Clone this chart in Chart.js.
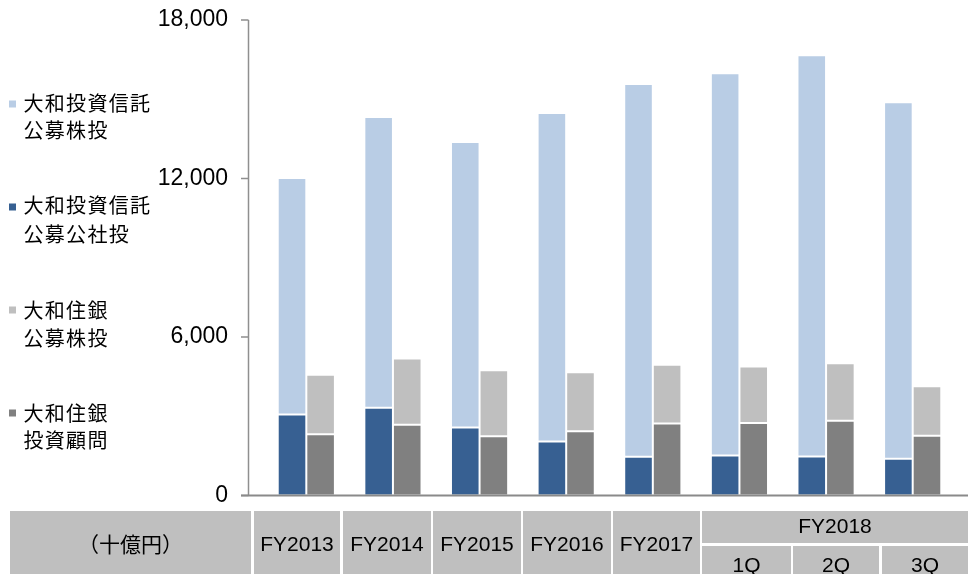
<!DOCTYPE html>
<html>
<head>
<meta charset="utf-8">
<script src="https://cdn.jsdelivr.net/npm/chart.js@4"></script>
<style>
  html, body { margin: 0; padding: 0; background: #fff; }
  #wrap { position: relative; width: 968px; height: 574px; }
</style>
</head>
<body>
<div id="wrap"><canvas id="c" width="968" height="574"></canvas></div>
<script>
// ---- data ----
const categories = ['FY2013', 'FY2014', 'FY2015', 'FY2016', 'FY2017', '1Q', '2Q', '3Q'];
const groupLabel = 'FY2018';          // spans the last three categories
const groupStart = 5;
const unitLabel = '（十億円）';
const yTickValues = [0, 6000, 12000, 18000];

const daiwaPublicStock = [8950, 11010, 10810, 12440, 14110, 14470, 15190, 13500];   // 大和投資信託 公募株投
const daiwaPublicBond  = [3070, 3320, 2570, 2040, 1470, 1510, 1480, 1390];          // 大和投資信託 公募公社投
const smPublicStock    = [2250, 2510, 2500, 2240, 2220, 2140, 2180, 1880];          // 大和住銀 公募株投
const smAdvisory       = [2320, 2680, 2240, 2430, 2730, 2740, 2830, 2260];          // 大和住銀 投資顧問

const legendNames = [
  ['大和投資信託', '公募株投'],
  ['大和投資信託', '公募公社投'],
  ['大和住銀', '公募株投'],
  ['大和住銀', '投資顧問']
];
const colors = ['#b9cde5', '#376092', '#bfbfbf', '#808080'];

// ---- plugin: axis lines, legend, table ----
const decor = {
  id: 'decor',
  afterDraw(chart) {
    const ctx = chart.ctx;
    const ys = chart.scales.y;
    const area = chart.chartArea;
    ctx.save();
    // y axis line and ticks
    const axX = 248.5;
    ctx.strokeStyle = '#8f8f8f';
    ctx.lineWidth = 1.5;
    ctx.beginPath();
    ctx.moveTo(axX, ys.getPixelForValue(yTickValues[yTickValues.length - 1]));
    ctx.lineTo(axX, area.bottom);
    yTickValues.forEach(v => {
      const py = ys.getPixelForValue(v);
      ctx.moveTo(241, py);
      ctx.lineTo(axX, py);
    });
    ctx.stroke();
    // baseline
    ctx.lineWidth = 2;
    ctx.strokeStyle = '#8a8a8a';
    ctx.beginPath();
    const by = ys.getPixelForValue(0);
    ctx.moveTo(241, by);
    ctx.lineTo(968, by);
    ctx.stroke();

    // legend
    const legendY = [[104, 131.5], [206.5, 235], [311, 339], [414, 441.5]];
    const markerY = [104, 207, 310, 413];
    ctx.font = '20px "Noto Sans CJK JP"';
    ctx.textBaseline = 'middle';
    ctx.textAlign = 'left';
    try { ctx.letterSpacing = '1.3px'; } catch (e) {}
    legendNames.forEach((lines, i) => {
      ctx.fillStyle = colors[i];
      ctx.fillRect(9, markerY[i] - 3.5, 7, 7);
      ctx.fillStyle = '#000';
      lines.forEach((t, j) => ctx.fillText(t, 23.5, legendY[i][j] - 1));
    });
    try { ctx.letterSpacing = '0px'; } catch (e) {}

    // table
    const top = 511, bottom = 574, midTop = 543, midBot = 546;
    const cols = [[254, 340], [343, 431], [433, 521], [523, 611], [613, 700]];
    const subCols = [[702, 791], [793, 879], [882, 968]];
    ctx.fillStyle = '#bfbfbf';
    ctx.fillRect(10, top, 241, bottom - top);
    cols.forEach(c => ctx.fillRect(c[0], top, c[1] - c[0], bottom - top));
    ctx.fillRect(702, top, 968 - 702, midTop - top);
    subCols.forEach(c => ctx.fillRect(c[0], midBot, c[1] - c[0], bottom - midBot));

    ctx.fillStyle = '#000';
    ctx.textAlign = 'center';
    ctx.textBaseline = 'middle';
    ctx.font = '21px "Noto Sans CJK JP"';
    ctx.fillText(unitLabel, 130.5, 544.5);
    ctx.font = '21px "Liberation Sans", Arial, sans-serif';
    categories.forEach((cat, i) => {
      if (i < groupStart) {
        const c = cols[i];
        ctx.fillText(cat, (c[0] + c[1]) / 2, 545.5);
      } else {
        const c = subCols[i - groupStart];
        ctx.fillText(cat, (c[0] + c[1]) / 2, 566);
      }
    });
    ctx.fillText(groupLabel, (702 + 968) / 2, 527.5);
    ctx.restore();
  }
};

const common = { borderColor: '#ffffff', borderWidth: 1, borderSkipped: false,
                 categoryPercentage: 0.66, barPercentage: 1 };

new Chart(document.getElementById('c'), {
  type: 'bar',
  data: {
    labels: categories,
    datasets: [
      Object.assign({ label: legendNames[1].join(' '), data: daiwaPublicBond, backgroundColor: colors[1], stack: 'daiwa' }, common),
      Object.assign({ label: legendNames[0].join(' '), data: daiwaPublicStock, backgroundColor: colors[0], stack: 'daiwa' }, common),
      Object.assign({ label: legendNames[3].join(' '), data: smAdvisory, backgroundColor: colors[3], stack: 'sm' }, common),
      Object.assign({ label: legendNames[2].join(' '), data: smPublicStock, backgroundColor: colors[2], stack: 'sm' }, common)
    ]
  },
  options: {
    responsive: false,
    animation: false,
    locale: 'en-US',
    layout: { padding: { left: 0, right: 12, top: 20, bottom: 78.5 } },
    plugins: { legend: { display: false }, tooltip: { enabled: false } },
    scales: {
      x: { stacked: true, display: false },
      y: {
        stacked: true,
        min: 0, max: 18000,
        afterFit: s => { s.width = 263; s.paddingTop = 0; s.paddingBottom = 0; },
        afterBuildTicks: s => { s.ticks = yTickValues.map(v => ({ value: v })); },
        grid: { display: false, drawTicks: false },
        border: { display: false },
        ticks: {
          padding: 35,
          color: '#000',
          font: { family: '"Liberation Sans", Arial, sans-serif', size: 23 },
          callback: v => v.toLocaleString('en-US')
        }
      }
    }
  },
  plugins: [decor]
});
</script>
</body>
</html>
